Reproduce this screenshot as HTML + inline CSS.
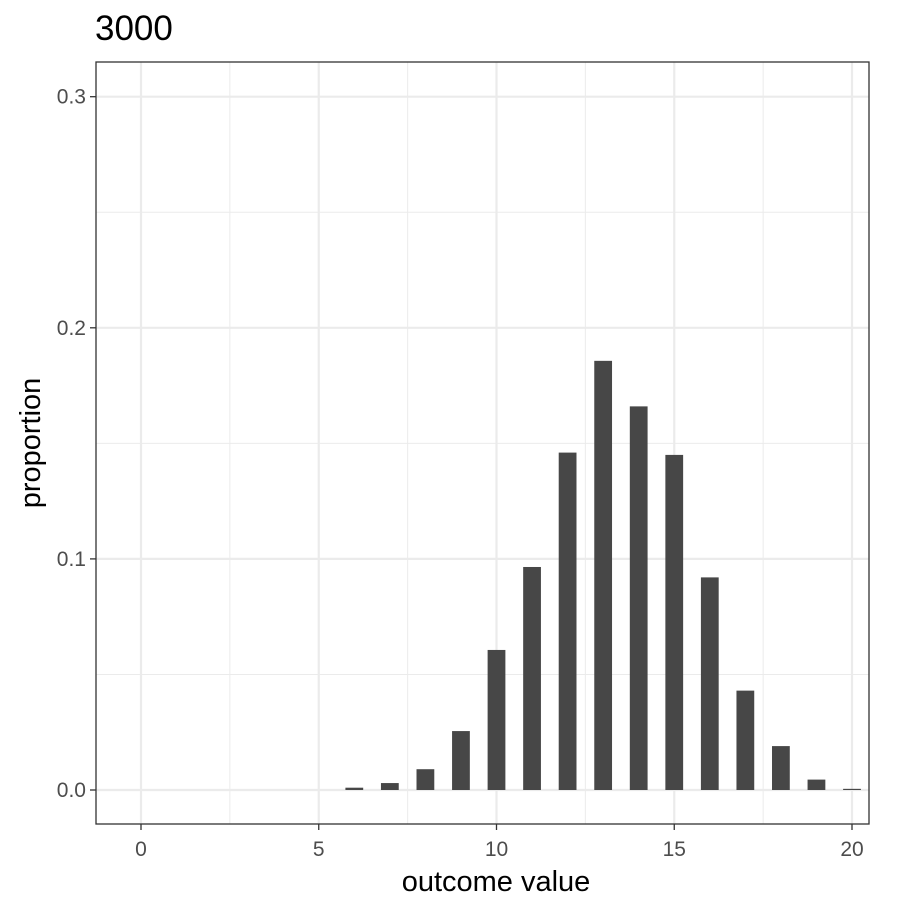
<!DOCTYPE html>
<html><head><meta charset="utf-8"><style>
body{margin:0;background:#fff;}
svg text{font-family:"Liberation Sans",Arial,sans-serif;}
</style></head><body>
<svg id="chart" width="912" height="912" xmlns="http://www.w3.org/2000/svg">
<rect width="912" height="912" fill="#fff"/>
<text x="95" y="40" font-size="35" fill="#000">3000</text>
<g id="grid"></g>
<g id="bars"></g>
<rect x="96" y="62" width="773" height="762" fill="none" stroke="#333" stroke-width="1.3"/>
<g id="axes"></g>
<text x="496" y="891" font-size="29" text-anchor="middle" fill="#000">outcome value</text>
<text transform="translate(40,443) rotate(-90)" font-size="29" text-anchor="middle" fill="#000">proportion</text>
</svg>
<script>
const categories=[6,7,8,9,10,11,12,13,14,15,16,17,18,19,20];
const proportions=[0.001,0.003,0.009,0.0255,0.0606,0.0965,0.146,0.1857,0.166,0.145,0.092,0.043,0.019,0.0045,0.0005];
const xTicks=[0,5,10,15,20];
const yTicks=[0.0,0.1,0.2,0.3];
const yTickLabels=["0.0","0.1","0.2","0.3"];
const NS="http://www.w3.org/2000/svg";
const x=v=>141+(v-0)*(852-141)/20;
const y=v=>790-v*2311;
function mk(tag,attrs,parent){const e=document.createElementNS(NS,tag);for(const k in attrs)e.setAttribute(k,attrs[k]);document.getElementById(parent).appendChild(e);return e;}
for(let i=0;i<xTicks.length-1;i++){const m=(xTicks[i]+xTicks[i+1])/2;
const l=mk('line',{x1:x(m),x2:x(m),y1:62,y2:824,stroke:'#ebebeb','stroke-width':1},'grid');

}
for(let i=0;i<yTicks.length-1;i++){const m=(yTicks[i]+yTicks[i+1])/2;
const l=mk('line',{x1:96,x2:869,y1:y(m),y2:y(m),stroke:'#ebebeb','stroke-width':1},'grid');

}
xTicks.forEach(t=>{const l=mk('line',{x1:x(t),x2:x(t),y1:62,y2:824,stroke:'#ebebeb','stroke-width':2.2},'grid');


const k=mk('line',{x1:x(t),x2:x(t),y1:824,y2:830,stroke:'#333','stroke-width':1.3},'axes');


const tx=mk('text',{x:x(t),y:856,'font-size':21,'text-anchor':'middle',fill:'#4d4d4d'},'axes');tx.textContent=t;

});
yTicks.forEach((t,i)=>{const l=mk('line',{x1:96,x2:869,y1:y(t),y2:y(t),stroke:'#ebebeb','stroke-width':2.2},'grid');


const k=mk('line',{x1:90,x2:96,y1:y(t),y2:y(t),stroke:'#333','stroke-width':1.3},'axes');


const tx=mk('text',{x:86,y:y(t)+7,'font-size':21,'text-anchor':'end',fill:'#4d4d4d'},'axes');tx.textContent=yTickLabels[i];

});
categories.forEach((c,i)=>{const w=0.5*(852-141)/20;const h=proportions[i]*2311;
const r=mk('rect',{x:x(c)-w/2,y:y(proportions[i]),width:w,height:Math.max(h,0.5),fill:'#474747'},'bars');

});
</script>
</body></html>
